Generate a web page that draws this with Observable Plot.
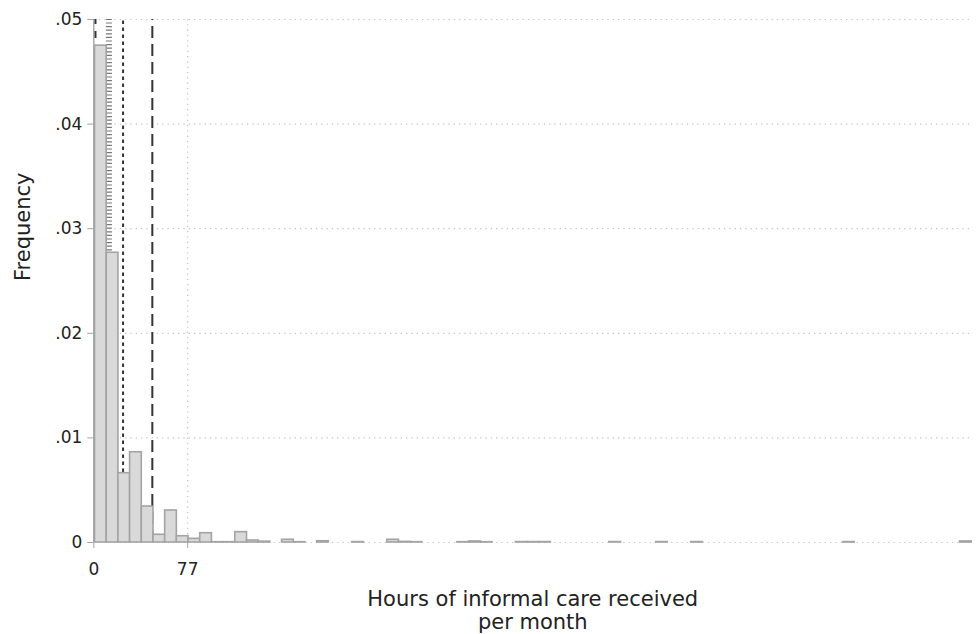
<!DOCTYPE html>
<html><head><meta charset="utf-8">
<script src="https://cdn.jsdelivr.net/npm/d3@7"></script>
<script src="https://cdn.jsdelivr.net/npm/@observablehq/plot@0.6"></script>
<style>body{margin:0;background:#fff} svg{display:block}</style>
</head><body><div id="chart"></div>
<script>
// Histogram bins: start and width (hours), density per bin
const binStart = 1;
const binWidth = 9.587;
const freq = [
  0.0475, 0.0277, 0.00663, 0.00863, 0.00344, 0.00074, 0.00306, 0.0006, 0.00035, 0.00089,
  0.00003, 0.00003, 0.00099, 0.00019, 0.00008, 0, 0.00026, 0.00003, 0, 0.00012,
  0, 0, 0.00004, 0, 0, 0.00026, 0.00006, 0.00003, 0, 0,
  0, 0.00003, 0.0001, 0.00003, 0, 0, 0.00004, 0.00004, 0.00004, 0,
  0, 0, 0, 0, 0.00004, 0, 0, 0, 0.00004, 0,
  0, 0.00004, 0, 0, 0, 0, 0, 0, 0, 0,
  0, 0, 0, 0, 0.00004, 0, 0, 0, 0, 0,
  0, 0, 0, 0, 0.0001
];
const yTicks = [0, 0.01, 0.02, 0.03, 0.04, 0.05];
const yTickLabels = ["0", ".01", ".02", ".03", ".04", ".05"];
const xTicks = [0, 77];
const xTickLabels = ["0", "77"];
const xGrid = [77];
// Reference lines (hours)
const refLines = [1.3, 12.4, 24, 48];
const refDash = ["7,7", "1.2,2.4", "3.5,3.5", "12,6"];
const refWidth = [2.2, 6, 2, 2];
const refColor = ["#333333", "#777777", "#333333", "#333333"];
const xTitle = "Hours of informal care received\nper month";
const yTitle = "Frequency";

const bins = freq.map((f, i) => ({x1: binStart + i * binWidth, x2: binStart + (i + 1) * binWidth, f}))
  .filter(d => d.f > 0);

const chart = Plot.plot({
  width: 978,
  height: 634,
  marginLeft: 93.3,
  marginRight: 6.8,
  marginTop: 19,
  marginBottom: 92,
  x: {domain: [0, 720]},
  y: {domain: [0, 0.05]},
  style: {fontFamily: "DejaVu Sans", fontSize: "17px", color: "#222", background: "#fff"},
  marks: [
    Plot.gridY(yTicks, {stroke: "#c4c4c4", strokeOpacity: 1, strokeDasharray: "1.3,4", strokeWidth: 1.2}),
    Plot.gridX(xGrid, {stroke: "#c4c4c4", strokeOpacity: 1, strokeDasharray: "1.3,4", strokeWidth: 1.2}),
    ...refLines.map((v, i) => Plot.ruleX([v], {
      y1: 0, y2: 0.05, stroke: refColor[i], strokeWidth: refWidth[i], strokeDasharray: refDash[i]
    })),
    Plot.rectY(bins, {x1: "x1", x2: "x2", y: "f", fill: "#d9d9d9", stroke: "#a3a3a3", strokeWidth: 1.6}),
    Plot.ruleX([0], {stroke: "#a3a3a3", strokeWidth: 1.4}),
    Plot.axisY(yTicks, {
      tickFormat: d => yTickLabels[yTicks.indexOf(d)],
      tickSize: 6, tickPadding: 5.5, stroke: "#a3a3a3", fill: "#222", label: null, fontSize: 17
    }),
    Plot.axisX(xTicks, {
      tickFormat: d => xTickLabels[xTicks.indexOf(d)],
      tickSize: 6, tickPadding: 14, stroke: "#a3a3a3", fill: "#222", label: null, fontSize: 17
    }),
    Plot.text([xTitle], {
      frameAnchor: "bottom", lineAnchor: "top", dy: 47, fontSize: 21, lineHeight: 1.1, fill: "#222"
    }),
    Plot.text([yTitle], {
      frameAnchor: "left", rotate: -90, dx: -71, fontSize: 21, fill: "#222"
    })
  ]
});
document.getElementById("chart").appendChild(chart);
</script>
</body></html>
